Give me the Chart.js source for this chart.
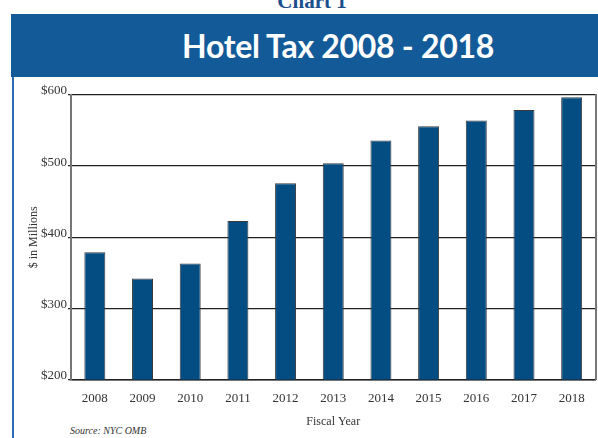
<!DOCTYPE html>
<html>
<head>
<meta charset="utf-8">
<script src="https://cdn.jsdelivr.net/npm/chart.js@4"></script>
<style>
  html,body{margin:0;padding:0;background:#fff;}
  #page{position:relative;width:598px;height:438px;overflow:hidden;background:#fff;}
  #chartNo{position:absolute;left:13px;width:598px;top:-11px;text-align:center;font:bold 21px "Liberation Serif",serif;color:#1b4f8c;}
  #band{position:absolute;left:11px;top:14px;width:587px;height:63px;background:#135a98;}
  #band span{position:absolute;left:42px;width:570px;top:12px;text-align:center;font:bold 32px Lato,sans-serif;color:#fff;letter-spacing:-0.3px;white-space:nowrap;}
  #edge{position:absolute;left:12px;top:77px;width:2px;height:361px;background:#2c6db4;}
  #src{position:absolute;left:70px;top:425px;font:italic 10px "Liberation Serif",serif;color:#333;}
  #wrap{position:absolute;left:0;top:0;width:598px;height:438px;}
</style>
</head>
<body>
<div id="page">
  <div id="chartNo">Chart 1</div>
  <div id="band"><span>Hotel Tax 2008 - 2018</span></div>
  <div id="edge"></div>
  <div id="src">Source: NYC OMB</div>
  <div id="wrap"><canvas id="c" width="598" height="438"></canvas></div>
</div>
<script>
const years  = ['2008','2009','2010','2011','2012','2013','2014','2015','2016','2017','2018'];
const hotelTax = [379, 342, 363, 423, 476, 504, 536, 556, 564, 579, 597];
const yTicks = [200, 300, 400, 500, 600];

const serif = '"Liberation Serif", "Times New Roman", serif';

new Chart(document.getElementById('c'), {
  type: 'bar',
  data: {
    labels: years,
    datasets: [{
      label: 'Hotel Tax',
      data: hotelTax,
      backgroundColor: '#044d82',
      borderColor: '#3a3a3a',
      borderWidth: 1,
      categoryPercentage: 1,
      barPercentage: 0.44
    }]
  },
  options: {
    responsive: false,
    animation: false,
    events: [],
    layout: {padding: {left: 24, top: 95, right: 2.5, bottom: 0}},
    plugins: {legend: {display: false}, tooltip: {enabled: false}},
    scales: {
      x: {
        grid: {display: false, drawTicks: false},
        border: {display: true, color: '#222', width: 1.5},
        ticks: {color: '#333', font: {family: serif, size: 13}, padding: 11, maxRotation: 0},
        title: {display: true, text: 'Fiscal Year', color: '#333', font: {family: serif, size: 12}, padding: {top: 0, bottom: 9}},
        afterFit: s => { s.height = 438 - 379.5; }
      },
      y: {
        min: yTicks[0],
        max: yTicks[yTicks.length - 1],
        afterBuildTicks: s => { s.ticks = yTicks.map(v => ({value: v})); },
        grid: {color: '#222', lineWidth: 1.3, tickLength: 3},
        border: {display: true, color: '#777', width: 2},
        ticks: {color: '#333', font: {family: serif, size: 13}, padding: 1, labelOffset: -4,
                callback: v => '$' + v},
        title: {display: true, text: '$ in Millions', color: '#333', font: {family: serif, size: 12}, padding: {top: 3, bottom: 0}},
        afterFit: s => { s.width = 47; }
      },
      y2: {
        position: 'right',
        min: yTicks[0],
        max: yTicks[yTicks.length - 1],
        grid: {display: false, drawTicks: false},
        border: {display: true, color: '#777', width: 2},
        ticks: {display: false},
        afterFit: s => { s.width = 0; }
      }
    }
  }
});
</script>
</body>
</html>
